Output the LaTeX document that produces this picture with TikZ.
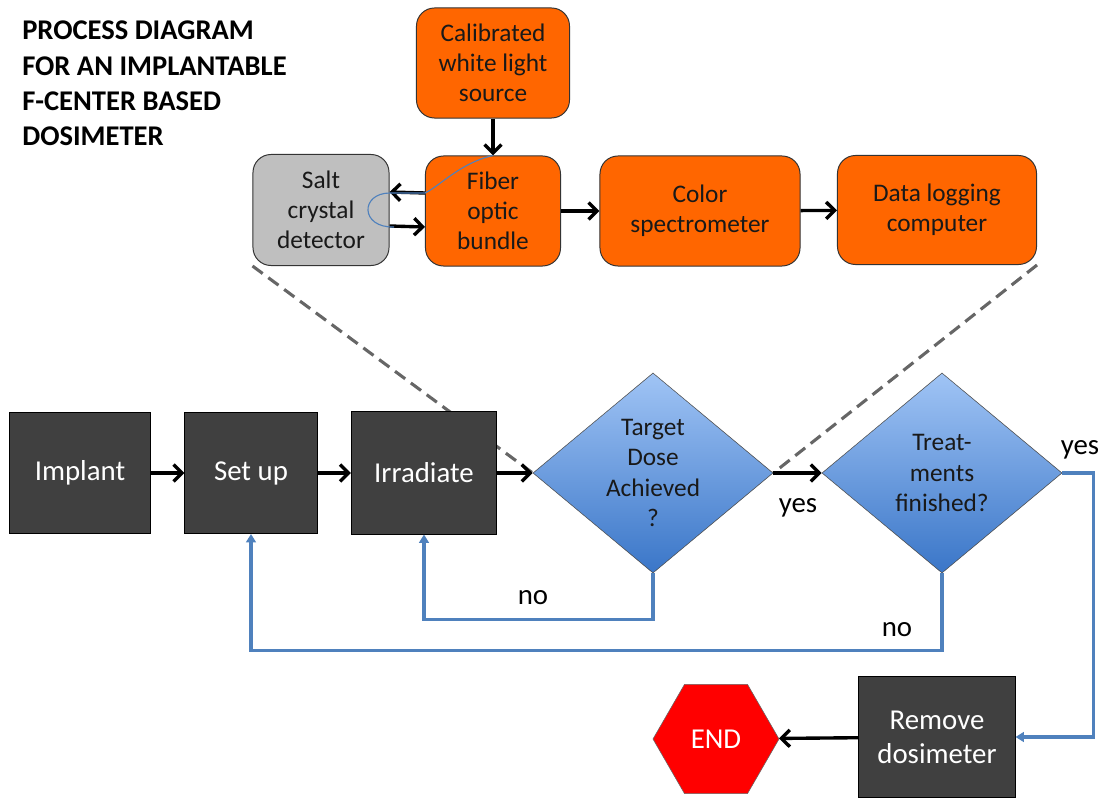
\documentclass[tikz,border=0pt]{standalone}
\usepackage{fontspec}
\setmainfont{Carlito}
\usetikzlibrary{arrows.meta,positioning,calc,shapes.geometric,backgrounds}
\definecolor{flame}{RGB}{255,102,0}
\definecolor{saltgray}{RGB}{191,191,191}
\definecolor{slate}{RGB}{64,64,64}
\definecolor{officeblue}{RGB}{79,129,189}
\definecolor{skytop}{RGB}{160,196,245}
\definecolor{skybottom}{RGB}{58,118,200}
\newcommand{\boxsize}{\fontsize{18}{21.5}\selectfont}
\newcommand{\flowsize}{\fontsize{20.5}{24}\selectfont}

\tikzset{
  orangebox/.style={draw=black!80, fill=flame, rounded corners=0.45cm, align=center,
    text=black!90, font=\boxsize, line width=0.7pt},
  graybox/.style={orangebox, fill=saltgray},
  darkbox/.style={draw=black, fill=slate, text=white, align=center, font=\flowsize, line width=0.7pt},
  decision/.style={diamond, draw=black!70, top color=skytop, bottom color=skybottom, aspect=1.2,
    inner sep=0pt, minimum width=6cm, minimum height=5cm, align=center, text=black!90, font=\boxsize},
  endstop/.style={regular polygon, regular polygon sides=6, minimum size=3.15cm, inner sep=0pt,
    fill=red, draw=black!60, text=white, font=\flowsize},
  flow/.style={-{Straight Barb[length=6pt,width=12pt]}, line width=2.4pt, draw=black},
  loopback/.style={-{Triangle[length=6pt,width=7pt]}, line width=2.4pt, draw=officeblue},
  linkline/.style={dash pattern=on 9pt off 5pt, line width=2.2pt, draw=black!60},
  fiberline/.style={draw=officeblue, line width=0.8pt},
  tag/.style={font=\flowsize, text=black}
}

\begin{document}
\begin{tikzpicture}[x=0.025cm,y=-0.025cm]
  \useasboundingbox (0,0) rectangle (1104,799);

  % title
  \node[anchor=north west, inner sep=0pt, align=left, font=\bfseries\fontsize{20.3}{25}\selectfont]
    (title) at (22,21) {PROCESS DIAGRAM\\FOR AN IMPLANTABLE\\F-CENTER BASED\\DOSIMETER};

  % readout chain
  \node[orangebox, minimum width=3.825cm, minimum height=2.75cm] (lamp) at (493,63) {Calibrated\\white light\\source};
  \node[graybox, minimum width=3.4cm, minimum height=2.775cm] (salt) at (321,210) {Salt\\crystal\\detector};
  \node[orangebox, minimum width=3.375cm, minimum height=2.75cm] (fiber) at (493,211) {Fiber\\optic\\bundle};
  \node[orangebox, minimum width=5cm, minimum height=2.75cm] (spectro) at (700,211) {Color\\spectrometer};
  \node[orangebox, minimum width=4.975cm, minimum height=2.725cm] (logger) at (937,210) {Data logging\\computer};

  % treatment flow
  \node[darkbox, minimum width=3.5cm, minimum height=3.025cm] (implant) at (80,473) {Implant};
  \node[darkbox, minimum width=3.3cm, minimum height=3.025cm] (setup) at (251,473) {Set up};
  \node[darkbox, minimum width=3.625cm, minimum height=3.05cm] (irradiate) at (424,473) {Irradiate};
  \node[decision] (target) at (653,473) {Target\\Dose\\Achieved\\?};
  \node[decision] (treat) at (942,473) {Treat-\\ments\\finished?};
  \node[darkbox, minimum width=3.9cm, minimum height=3.025cm] (remove) at (937,737) {Remove\\dosimeter};
  \node[endstop] (finish) at (716,739) {END};

  \begin{pgfonlayer}{background}
    \draw[linkline] (salt.south west) -- (target.west);
    \draw[linkline] (logger.south east) -- (target.east);
  \end{pgfonlayer}

  \draw[flow] (lamp) -- (fiber);
  \draw[flow] ([yshift=0.45cm]fiber.west) -- ([yshift=0.45cm]salt.east);
  \draw[flow] ([yshift=-0.4cm]salt.east) -- ([yshift=-0.4cm]fiber.west);
  \draw[flow] (fiber) -- (spectro);
  \draw[flow] (spectro) -- (logger);
  \draw[fiberline] (fiber.north) .. controls (460,163) and (440,186) .. (425,193)
    -- (390,193) .. controls (360,193) and (360,228) .. (394,227);

  \draw[flow] (implant) -- (setup);
  \draw[flow] (setup) -- (irradiate);
  \draw[flow] (irradiate) -- (target);
  \draw[flow] (target) -- (treat);
  \draw[flow] (remove) -- (finish);

  \draw[loopback] (target.south) -- ++(0,46) -| (irradiate.south);
  \draw[loopback] (treat.south) -- ++(0,77) -| (setup.south);
  \draw[loopback] (treat.east) -- ++(31,0) |- (remove.east);

  \node[tag] (yes1) at (798,508) {yes};
  \node[tag] (yes2) at (1080,450) {yes};
  \node[tag] (no1) at (533,598) {no};
  \node[tag] (no2) at (897,630) {no};
\end{tikzpicture}
\end{document}
